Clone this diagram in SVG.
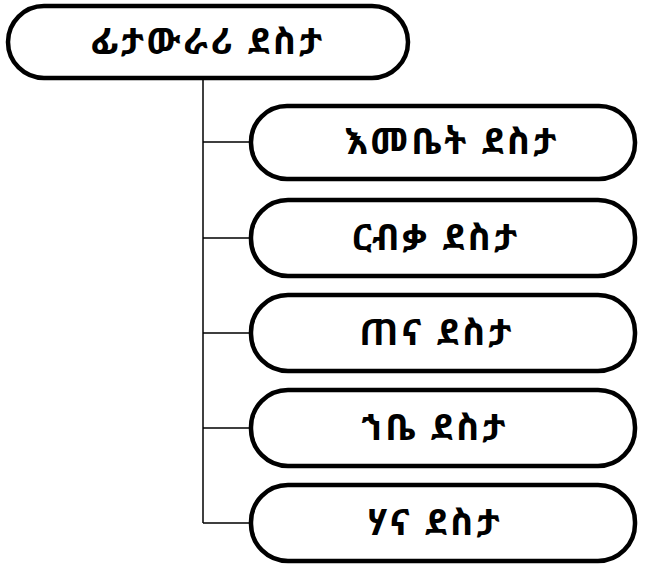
<svg xmlns="http://www.w3.org/2000/svg" width="648" height="569" viewBox="0 0 648 569">
<style>
.box{fill:#fff;stroke:#000;stroke-width:4.5}
.lbl{font-family:"Noto Sans Ethiopic","Abyssinica SIL","Noto Serif Ethiopic","DejaVu Sans","Noto Sans",sans-serif;font-size:36px;font-weight:bold;letter-spacing:3px;text-anchor:middle;dominant-baseline:central;fill:#000}
.conn{fill:none;stroke:#000;stroke-width:1.5}
</style>
<rect width="648" height="569" fill="#fff"/>
<g id="connectors">
<path class="conn" d="M203 78 V523"/>
<path class="conn" d="M203 142 H252 M203 238 H252 M203 333 H252 M203 428 H252 M203 523 H252"/>
</g>
<g id="n0"><rect class="box" x="8" y="6" width="400" height="72" rx="36"/><text class="lbl" x="208" y="40">ፊታውራሪ ደስታ</text></g>
<g id="n1"><rect class="box" x="251" y="106" width="384" height="73" rx="36"/><text class="lbl" x="452" y="140">እመቤት ደስታ</text></g>
<g id="n2"><rect class="box" x="251" y="200" width="384" height="76" rx="37"/><text class="lbl" x="436" y="236">ርብቃ ደስታ</text></g>
<g id="n3"><rect class="box" x="251" y="295" width="384" height="76" rx="37"/><text class="lbl" x="437" y="331">ጠና ደስታ</text></g>
<g id="n4"><rect class="box" x="251" y="390" width="384" height="76" rx="37"/><text class="lbl" x="435" y="426">ኀቤ ደስታ</text></g>
<g id="n5"><rect class="box" x="251" y="485" width="384" height="76" rx="37"/><text class="lbl" x="435" y="521">ሃና ደስታ</text></g>
</svg>
